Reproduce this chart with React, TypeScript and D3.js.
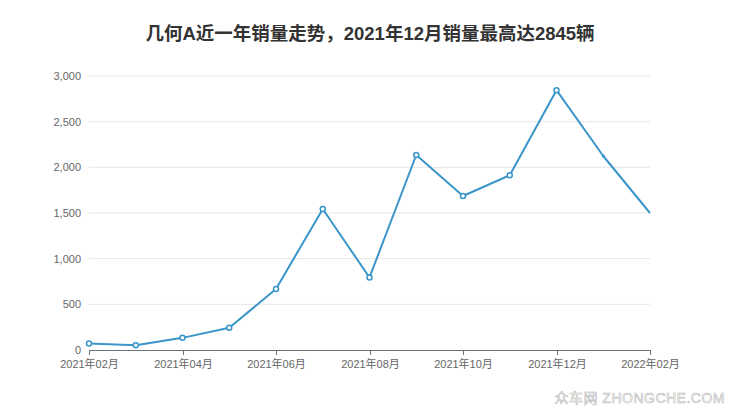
import React from "react";
import * as d3 from "d3";

const months = ["2021-02","2021-03","2021-04","2021-05","2021-06","2021-07","2021-08","2021-09","2021-10","2021-11","2021-12","2022-01","2022-02"];
const sales = [70, 52, 133, 243, 668, 1544, 794, 2135, 1686, 1914, 2845, 2124, 1500];
const yTicks = [0, 500, 1000, 1500, 2000, 2500, 3000];
const xLabelIdx = [0, 2, 4, 6, 8, 10, 12];
const title = "几何A近一年销量走势，2021年12月销量最高达2845辆";

const W = 740, H = 417;
const M = { left: 89, right: 650, top: 76, bottom: 350 };

export default function App() {
  const x = d3.scalePoint<string>().domain(months).range([M.left, M.right]);
  const y = d3.scaleLinear().domain([0, 3000]).range([M.bottom, M.top]);
  const line = d3.line<number>().x((_, i) => x(months[i]) as number).y((d) => y(d));
  const fmt = d3.format(",");
  const label = (m: string) => m.slice(0, 4) + "年" + m.slice(5) + "月";
  const font = "'Liberation Sans', Arial, 'Noto Sans CJK SC', sans-serif";
  return (
    <svg width={W} height={H} style={{ position: "absolute", left: 0, top: 0, background: "#fff" }} fontFamily={font}>
      <text x={370} y={40} textAnchor="middle" fontSize={18.5} fontWeight="bold" fill="#333">{title}</text>
      {yTicks.map((t) => (
        <g key={t}>
          {t > 0 && <line x1={M.left} x2={M.right} y1={y(t)} y2={y(t)} stroke="#e6e6e6" strokeWidth={1} />}
          <text x={81} y={y(t) + 4} textAnchor="end" fontSize={11} fill="#666">{fmt(t)}</text>
        </g>
      ))}
      <line x1={M.left} x2={M.right} y1={M.bottom + 0.5} y2={M.bottom + 0.5} stroke="#6e7079" strokeWidth={1} />
      {xLabelIdx.map((i) => {
        const xx = Math.round(x(months[i]) as number) + 0.5;
        return (
          <g key={i}>
            <line x1={xx} x2={xx} y1={M.bottom} y2={M.bottom + 5} stroke="#6e7079" />
            <text x={xx} y={M.bottom + 18} textAnchor="middle" fontSize={11} fill="#666">{label(months[i])}</text>
          </g>
        );
      })}
      <path d={line(sales) || ""} fill="none" stroke="#3a95c9" strokeWidth={2} strokeLinejoin="round" />
      {sales.map((v, i) =>
        i < 11 ? (
          <circle key={i} cx={x(months[i]) as number} cy={y(v)} r={2.5} fill="#fff" stroke="#3a95c9" strokeWidth={1.5} />
        ) : i === 11 ? (
          <circle key={i} cx={x(months[i]) as number} cy={y(v)} r={1.5} fill="#3a95c9" />
        ) : null
      )}
      <text x={725} y={403} textAnchor="end" fontSize={14} fill="#fff" stroke="#bbb" strokeWidth={0.6} letterSpacing={0.5}>众车网 ZHONGCHE.COM</text>
    </svg>
  );
}
